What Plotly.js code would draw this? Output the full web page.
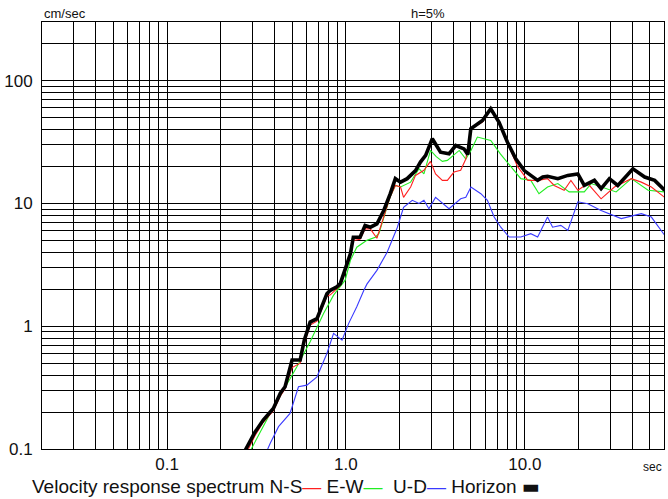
<!DOCTYPE html>
<html>
<head>
<meta charset="utf-8">
<script src="https://cdn.plot.ly/plotly-3.0.1.min.js"></script>
<style>html,body{margin:0;padding:0;background:#fff;}#chart{width:668px;height:499px;}</style>
</head>
<body>
<div id="chart"></div>
<script>
// Horizon (black, thick)
const periodH = [0.26, 0.279, 0.31, 0.345, 0.393, 0.43, 0.457, 0.50, 0.555, 0.585, 0.631, 0.689, 0.736, 0.783, 0.818, 0.89, 0.93, 0.99, 1.06, 1.10, 1.20, 1.28, 1.37, 1.49, 1.63, 1.77, 1.89, 2.02, 2.2, 2.45, 2.61, 2.79, 3.04, 3.38, 3.77, 4.11, 4.57, 4.8, 4.99, 5.8, 6.45, 7.18, 8.0, 8.9, 9.93, 11.8, 12.6, 13.4, 15.3, 17.4, 19.8, 21.5, 24.5, 26.7, 29.7, 33.1, 40.2, 46.8, 53.2, 60.5];
const velH    = [0.085, 0.104, 0.137, 0.172, 0.214, 0.285, 0.321, 0.53, 0.53, 0.77, 1.08, 1.15, 1.48, 1.84, 1.96, 2.09, 2.22, 2.85, 3.9, 5.3, 5.3, 6.6, 6.4, 6.8, 8.8, 12, 15.9, 14.9, 15.9, 18.5, 21.7, 24.6, 33.6, 26.1, 25.3, 29.6, 27.8, 25, 40.5, 47.3, 58.9, 45.8, 31.5, 23.1, 18.5, 15.4, 16.4, 16.6, 15.9, 16.9, 17.4, 14.0, 15.4, 13.2, 15.9, 14.0, 19.1, 16.4, 15.4, 12.8];

// N-S (red)
const periodNS = [0.26, 0.285, 0.31, 0.345, 0.393, 0.43, 0.457, 0.5, 0.555, 0.585, 0.631, 0.689, 0.736, 0.783, 0.818, 0.89, 0.93, 0.99, 1.06, 1.10, 1.20, 1.28, 1.37, 1.49, 1.63, 1.77, 1.89, 2.02, 2.1, 2.3, 2.45, 2.73, 2.97, 3.17, 3.46, 3.69, 4.02, 4.38, 4.68, 5.0, 5.8, 6.45, 7.18, 8.0, 9.1, 10.4, 11.8, 13.4, 14.6, 16.6, 18.1, 19.8, 22.5, 26.7, 31.7, 39.4, 44.8, 51, 60.5];
const velNS    = [0.085, 0.1, 0.128, 0.165, 0.205, 0.27, 0.31, 0.46, 0.5, 0.72, 1.02, 1.1, 1.4, 1.75, 1.8, 2.0, 2.15, 2.75, 3.7, 5.0, 5.1, 6.2, 6.2, 5.2, 8.0, 11.4, 14.0, 13.6, 11.2, 13.6, 16.9, 18.6, 22.0, 17.4, 15.4, 15.4, 18, 18.6, 23, 40.5, 46, 58, 45, 30.6, 20, 15.4, 15.4, 15.9, 14, 12.8, 15.4, 12.8, 14.5, 10.9, 13.6, 15.9, 14.9, 13.6, 11.2];

// E-W (green)
const periodEW = [0.28, 0.297, 0.377, 0.447, 0.532, 0.631, 0.75, 0.853, 0.93, 0.99, 1.06, 1.15, 1.31, 1.46, 1.53, 1.63, 1.77, 1.89, 2.02, 2.3, 2.56, 2.73, 2.97, 3.2, 3.46, 3.69, 4.02, 4.3, 4.68, 5.0, 5.43, 6.45, 7.3, 8.3, 9.5, 10.8, 12.0, 13.4, 15.3, 17.7, 21.5, 23.5, 26.7, 32.4, 39.4, 48.9, 60.5];
const velEW    = [0.088, 0.101, 0.195, 0.302, 0.467, 0.746, 1.27, 1.79, 2.09, 2.37, 3.44, 4.4, 5.0, 5.3, 5.7, 7.74, 11.4, 14, 13.6, 14.9, 19.2, 17.4, 27, 24, 22, 22.4, 25, 27, 23, 27, 34.7, 32.5, 25.3, 20, 15.9, 15.4, 12, 13.6, 14.5, 12.4, 12.4, 14.5, 13.6, 12.4, 15.9, 12.8, 12.4];

// U-D (blue)
const periodUD = [0.36, 0.377, 0.42, 0.487, 0.543, 0.605, 0.689, 0.783, 0.853, 0.951, 1.035, 1.15, 1.26, 1.31, 1.49, 1.7, 1.94, 2.1, 2.35, 2.56, 2.73, 2.91, 3.17, 3.46, 3.77, 4.38, 4.68, 5.0, 5.68, 6.18, 6.74, 7.34, 8.17, 9.5, 10.8, 11.8, 13.4, 14.3, 15.9, 17.4, 19.8, 22.5, 26.7, 34.6, 44.8, 51, 60.5];
const velUD    = [0.095, 0.111, 0.152, 0.195, 0.321, 0.331, 0.387, 0.6, 0.873, 0.769, 1.05, 1.44, 1.96, 2.2, 2.85, 4.0, 6.4, 9.3, 10.6, 10.0, 10.6, 9.06, 11.2, 10.0, 9.06, 10.9, 11.2, 13.6, 12, 10.6, 7.74, 6.4, 5.32, 5.32, 5.67, 5.32, 7.74, 6.4, 6.62, 6.03, 10.3, 9.95, 8.77, 7.52, 8.25, 7.74, 5.5];

// tick labels
const xLabelVals = [0.1, 1, 10];
const xLabelText = ["0.1", "1.0", "10.0"];
const yLabelVals = [0.1, 1, 10, 100];
const yLabelText = ["0.1", "1", "10", "100"];
const xRange = [0.02, 60];
const yRange = [0.1, 300];

function gridTicks(range, labVals, labText) {
  const vals = [], text = [];
  for (let e = -3; e <= 3; e++) {
    for (let m = 1; m <= 9; m++) {
      const v = parseFloat((m * Math.pow(10, e)).toPrecision(6));
      if (v >= range[0] * 0.999 && v <= range[1] * 1.001) {
        vals.push(v);
        const idx = labVals.findIndex(l => Math.abs(l - v) / v < 1e-6);
        text.push(idx >= 0 ? labText[idx] : "");
      }
    }
  }
  return {vals, text};
}
const xg = gridTicks(xRange, xLabelVals, xLabelText);
const yg = gridTicks(yRange, yLabelVals, yLabelText);

const traces = [
  {x: periodUD, y: velUD, mode: 'lines', line: {color: '#3a3aff', width: 1.1}, name: 'U-D'},
  {x: periodEW, y: velEW, mode: 'lines', line: {color: '#22ee22', width: 1.1}, name: 'E-W'},
  {x: periodNS, y: velNS, mode: 'lines', line: {color: '#ff2020', width: 1.1}, name: 'N-S'},
  {x: periodH, y: velH, mode: 'lines', line: {color: '#000000', width: 3.6}, name: 'Horizon'}
];

const txt = '#111111';
const layout = {
  width: 668, height: 499,
  margin: {l: 42, r: 4, t: 22, b: 50},
  paper_bgcolor: '#ffffff', plot_bgcolor: '#ffffff',
  showlegend: false,
  font: {family: 'Liberation Sans, Arial, sans-serif', color: txt},
  xaxis: {
    type: 'log', range: [Math.log10(xRange[0]), Math.log10(xRange[1])],
    tickmode: 'array', tickvals: xg.vals, ticktext: xg.text,
    showgrid: true, gridcolor: '#000000', gridwidth: 1,
    showline: true, linecolor: '#000000', linewidth: 1, mirror: true,
    ticks: '', tickfont: {size: 17, color: txt}, zeroline: false, fixedrange: true
  },
  yaxis: {
    type: 'log', range: [Math.log10(yRange[0]), Math.log10(yRange[1])],
    tickmode: 'array', tickvals: yg.vals, ticktext: yg.text,
    showgrid: true, gridcolor: '#000000', gridwidth: 1,
    showline: true, linecolor: '#000000', linewidth: 1, mirror: true,
    ticks: '', ticklabelstandoff: 5, tickfont: {size: 17, color: txt}, zeroline: false, fixedrange: true
  },
  annotations: [
    {xref: 'paper', yref: 'paper', x: 0, y: 1.021, xanchor: 'left', yanchor: 'middle',
     text: 'cm/sec', showarrow: false, font: {size: 13, color: txt}},
    {xref: 'paper', yref: 'paper', x: 0.62, y: 1.021, xanchor: 'center', yanchor: 'middle',
     text: 'h=5%', showarrow: false, font: {size: 13, color: txt}},
    {xref: 'paper', yref: 'paper', x: 1.0, y: -0.02, xanchor: 'right', yanchor: 'top',
     text: 'sec', showarrow: false, font: {size: 12, color: txt}},
    {xref: 'paper', yref: 'paper', x: -0.02, y: -0.087, xanchor: 'left', yanchor: 'middle',
     text: 'Velocity response spectrum N-S<span style="color:#ff2020">—</span> E-W<span style="color:#22ee22">—</span>&nbsp; U-D<span style="color:#3a3aff">—</span> Horizon <span style="font-family:DejaVu Sans">▬</span>',
     showarrow: false, font: {size: 19, color: txt}}
  ]
};

Plotly.newPlot('chart', traces, layout, {displayModeBar: false, staticPlot: true});
</script>
</body>
</html>
